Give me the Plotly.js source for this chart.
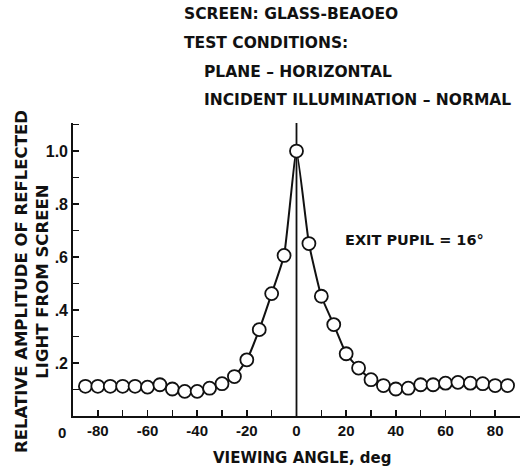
<!DOCTYPE html>
<html><head><meta charset="utf-8">
<script src="https://cdn.plot.ly/plotly-3.0.1.min.js"></script>
<style>html,body{margin:0;padding:0;background:#fff;}#chart{width:532px;height:467px;}</style>
</head><body><div id="chart"></div>
<script>
var angles = [-85,-80,-75,-70,-65,-60,-55,-50,-45,-40,-35,-30,-25,-20,-15,-10,-5,0,
              5,10,15,20,25,30,35,40,45,50,55,60,65,70,75,80,85];
var amplitude = [0.112,0.112,0.112,0.112,0.112,0.109,0.118,0.102,0.093,0.093,0.105,0.122,0.149,0.212,0.326,0.462,0.606,1.0,
                 0.651,0.452,0.345,0.235,0.181,0.137,0.115,0.102,0.105,0.118,0.118,0.124,0.127,0.124,0.122,0.115,0.115];
var xTickVals = [-80,-60,-40,-20,0,20,40,60,80];
var xTickText = ['-80','-60','-40','-20','0','20','40','60','80'];
var yTickVals = [0.2,0.4,0.6,0.8,1.0];
var yTickText = ['.2','.4','.6','.8','1.0'];
var titleLines = ['SCREEN: GLASS-BEAOEO','TEST CONDITIONS:','PLANE \u2013 HORIZONTAL','INCIDENT ILLUMINATION \u2013 NORMAL'];
var yTitle = 'RELATIVE AMPLITUDE OF REFLECTED<br>LIGHT FROM SCREEN';
var xTitle = 'VIEWING ANGLE, deg';
var note = 'EXIT PUPIL = 16\u00b0';

var FT = {family:'DejaVu Sans, sans-serif', size:15.5, color:'#111', weight:'bold'};
var FK = {family:'Liberation Sans, Arial, sans-serif', size:16, color:'#111', weight:'bold'};

var trace = {
  x: angles, y: amplitude, mode:'lines+markers', type:'scatter',
  line:{color:'#111', width:2, shape:'spline', smoothing:0.4},
  marker:{symbol:'circle', size:13, color:'#fff', line:{color:'#111', width:1.8}},
  cliponaxis:false, hoverinfo:'skip'
};

var L = 73, T = 123, W = 447, H = 293;
function px2paperX(p){return (p-L)/W;}
function px2paperY(p){return (T+H-p)/H;}

var annotations = [
  {text:titleLines[0], xref:'paper', yref:'paper', x:px2paperX(182), y:px2paperY(14), xanchor:'left', yanchor:'middle', showarrow:false, font:FT},
  {text:titleLines[1], xref:'paper', yref:'paper', x:px2paperX(182), y:px2paperY(43), xanchor:'left', yanchor:'middle', showarrow:false, font:FT},
  {text:titleLines[2], xref:'paper', yref:'paper', x:px2paperX(202), y:px2paperY(72), xanchor:'left', yanchor:'middle', showarrow:false, font:FT},
  {text:titleLines[3], xref:'paper', yref:'paper', x:px2paperX(202), y:px2paperY(100), xanchor:'left', yanchor:'middle', showarrow:false, font:FT},
  {text:yTitle, xref:'paper', yref:'paper', x:px2paperX(32), y:px2paperY(282), xanchor:'center', yanchor:'middle', textangle:-90, showarrow:false, font:Object.assign({},FT,{size:16.5})},
  {text:xTitle, xref:'paper', yref:'paper', x:px2paperX(302), y:px2paperY(458), xanchor:'center', yanchor:'middle', showarrow:false, font:Object.assign({},FT,{size:15})},
  {text:note, xref:'paper', yref:'paper', x:px2paperX(343), y:px2paperY(240), xanchor:'left', yanchor:'middle', showarrow:false, font:Object.assign({},FT,{size:14.5})},
  {text:'0', xref:'paper', yref:'paper', x:px2paperX(62), y:px2paperY(432), xanchor:'center', yanchor:'middle', showarrow:false, font:Object.assign({},FK,{size:15})}
];

var layout = {
  width:532, height:467,
  margin:{l:L, r:532-L-W, t:T, b:467-T-H, pad:0},
  paper_bgcolor:'#fff', plot_bgcolor:'#fff',
  font:FK, showlegend:false,
  xaxis:{range:[-90,90], showgrid:false, zeroline:false, showline:true, linecolor:'#111', linewidth:1.8,
         tickmode:'array', tickvals:xTickVals, ticktext:xTickText, ticks:'inside', ticklen:6, tickwidth:1.4, tickcolor:'#111',
         minor:{dtick:10, tick0:0, ticks:'inside', ticklen:6, tickwidth:1.4, tickcolor:'#111'},
         tickfont:Object.assign({},FK,{size:15}), fixedrange:true},
  yaxis:{range:[0,1.106], showgrid:false, zeroline:false, showline:true, linecolor:'#111', linewidth:1.8,
         tickmode:'array', tickvals:yTickVals, ticktext:yTickText, ticks:'inside', ticklen:6, tickwidth:1.4, tickcolor:'#111',
         minor:{dtick:0.1, tick0:0, ticks:'inside', ticklen:6, tickwidth:1.4, tickcolor:'#111'},
         tickfont:FK, ticklabelstandoff:0, fixedrange:true},
  shapes:[{type:'line', xref:'x', yref:'paper', x0:0, x1:0, y0:0, y1:1, line:{color:'#111', width:1.8}, layer:'below'}],
  annotations:annotations
};

Plotly.newPlot('chart', [trace], layout, {displayModeBar:false, staticPlot:true});
</script></body></html>
